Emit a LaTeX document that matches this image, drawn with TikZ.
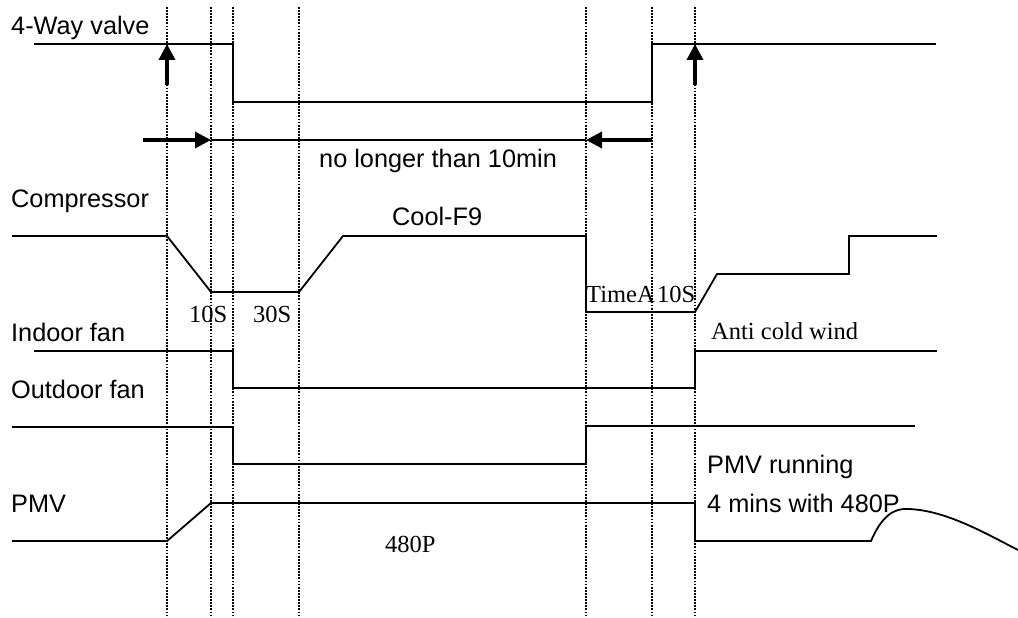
\documentclass[tikz,border=0pt]{standalone}
\usepackage{fontspec}
\setmainfont{Liberation Serif}
\setsansfont{Liberation Sans}
\usetikzlibrary{arrows.meta}
\begin{document}
\begin{tikzpicture}[x=1pt,y=-1pt,>={Triangle[length=16pt,width=16pt]},
  sig/.style={line width=1.8pt},
  grid/.style={line width=2.3pt,dash pattern=on 1.8pt off 1.3pt},
  big/.style={line width=3.5pt,->},
  lab/.style={font=\sffamily\fontsize{25.3}{30}\selectfont,inner sep=0pt,anchor=base west},
  tim/.style={font=\fontsize{24.5}{29}\selectfont,inner sep=0pt,anchor=base west}]
\useasboundingbox(0,0)rectangle(1018,618);
\foreach \t in {167,211,233,299,586,652,695}
  \draw[grid](\t,7)--(\t,618);

% signal names
\node[lab](way) at (11,35){4-Way valve};
\node[lab](comp) at (11,207){Compressor};
\node[lab](ifan) at (11,341){Indoor fan};
\node[lab](ofan) at (11,398){Outdoor fan};
\node[lab](pmv) at (11,512){PMV};

% 4-way valve
\draw[sig](34,44)--(233,44)--(233,102)--(652,102)--(652,44)--(936,44);
\draw[big](167,85)--(167,44);
\draw[big](695,85)--(695,44);
\coordinate(d1) at (211,140);
\coordinate(d2) at (586,140);
\draw[sig](d1)--(d2);
\draw[big](143,140)--(d1);
\draw[big](652,140)--(d2);
\node[lab](lim) at (319,167){no longer than 10min};

% compressor
\draw[sig](12,236)--(167,236)--(211,292)--(299,292)--(343,236)--(586,236)--(586,312)
  --(695,312)--(717,274)--(849,274)--(849,236)--(937,236);
\node[lab](cool) at (392,225){Cool-F9};
\node[tim](s10) at (189,322){10S};
\node[tim](s30) at (253,322){30S};
\node[tim](ta) at (586,302){TimeA};
\node[tim](s10b) at (657,302){10S};

% fans
\draw[sig](34,351)--(233,351)--(233,388)--(695,388)--(695,351)--(937,351);
\node[tim](acw) at (711,339){Anti cold wind};
\draw[sig](12,427)--(233,427)--(233,464)--(586,464)--(586,426)--(915,426);

% PMV
\draw[sig](12,541)--(167,541)--(211,503)--(695,503)--(695,541)--(871,541)
  .. controls (882,515) and (895,508) .. (908,509)
  .. controls (945,510) and (985,533) .. (1018,550);
\node[tim](p480) at (385,552){480P};
\node[lab](run) at (707,473){PMV running};
\node[lab](min4) at (707,512){4 mins with 480P};

\end{tikzpicture}
\end{document}
